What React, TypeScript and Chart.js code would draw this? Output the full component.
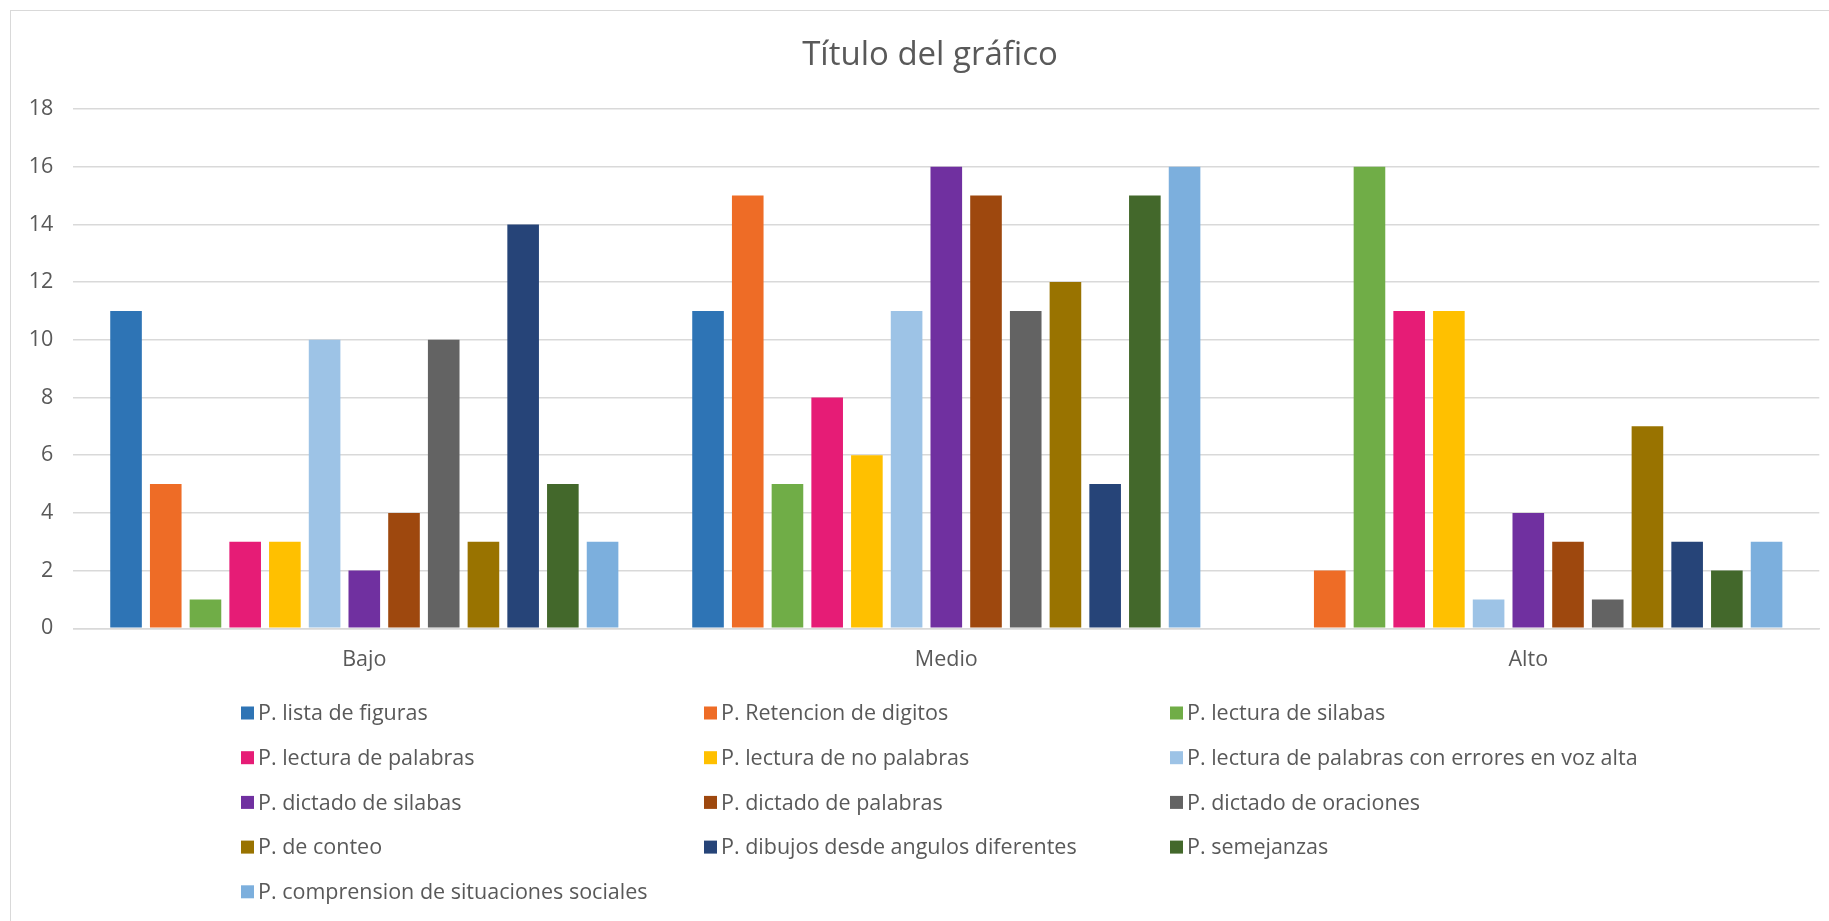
import React, { useEffect, useRef } from "react";
import { Chart, registerables } from "chart.js";

Chart.register(...registerables);

const chartTitle = "Título del gráfico";

const categories = ["Bajo", "Medio", "Alto"];

const seriesNames = [
  "P. lista de figuras",
  "P. Retencion de digitos",
  "P. lectura de silabas",
  "P. lectura de palabras",
  "P. lectura de no palabras",
  "P. lectura de palabras con errores en voz alta",
  "P. dictado de silabas",
  "P. dictado de palabras",
  "P. dictado de oraciones",
  "P. de conteo",
  "P. dibujos desde angulos diferentes",
  "P. semejanzas",
  "P. comprension de situaciones sociales",
];

const seriesColors = [
  "#2E74B5",
  "#EE6C26",
  "#70AD47",
  "#E61C76",
  "#FFC000",
  "#9DC3E6",
  "#7030A0",
  "#9E480E",
  "#636363",
  "#997300",
  "#264478",
  "#43682B",
  "#7CAFDD",
];

const listaFiguras = [11, 11, 0];
const retencionDigitos = [5, 15, 2];
const lecturaSilabas = [1, 5, 16];
const lecturaPalabras = [3, 8, 11];
const lecturaNoPalabras = [3, 6, 11];
const lecturaErrores = [10, 11, 1];
const dictadoSilabas = [2, 16, 4];
const dictadoPalabras = [4, 15, 3];
const dictadoOraciones = [10, 11, 1];
const conteo = [3, 12, 7];
const dibujosAngulos = [14, 5, 3];
const semejanzas = [5, 15, 2];
const comprensionSocial = [3, 16, 3];

const seriesValues = [
  listaFiguras,
  retencionDigitos,
  lecturaSilabas,
  lecturaPalabras,
  lecturaNoPalabras,
  lecturaErrores,
  dictadoSilabas,
  dictadoPalabras,
  dictadoOraciones,
  conteo,
  dibujosAngulos,
  semejanzas,
  comprensionSocial,
];

const yMin = 0;
const yMax = 18;
const yStep = 2;

const TEXT = "#595959";
const GRID = "#d9d9d9";
const FONT = '"Open Sans", sans-serif';

const titlePlugin = {
  id: "centeredTitle",
  afterDraw(chart: any) {
    const ctx = chart.ctx;
    ctx.save();
    ctx.font = `33px ${FONT}`;
    ctx.fillStyle = TEXT;
    ctx.textAlign = "center";
    ctx.textBaseline = "middle";
    ctx.fillText(chartTitle, 930, 56);
    ctx.restore();
  },
};

const gridLegend = {
  id: "gridLegend",
  afterDraw(chart: any) {
    const ctx = chart.ctx;
    const colX = [241, 704, 1170];
    const rowY0 = 713;
    const rowStep = 44.7;
    ctx.save();
    ctx.font = `21.5px ${FONT}`;
    ctx.textBaseline = "middle";
    ctx.textAlign = "left";
    chart.data.datasets.forEach((ds: any, i: number) => {
      const c = i % 3;
      const r = Math.floor(i / 3);
      const x = colX[c];
      const y = rowY0 + r * rowStep;
      ctx.fillStyle = ds.backgroundColor;
      ctx.fillRect(x, y - 6.5, 13, 13);
      ctx.fillStyle = TEXT;
      ctx.fillText(ds.label, x + 17, y + 1);
    });
    ctx.restore();
  },
};

export default function App() {
  const ref = useRef<HTMLCanvasElement | null>(null);

  useEffect(() => {
    if (!ref.current) return;
    const chart = new Chart(ref.current, {
      type: "bar",
      data: {
        labels: categories,
        datasets: seriesNames.map((name, i) => ({
          label: name,
          data: seriesValues[i],
          backgroundColor: seriesColors[i],
          borderWidth: 0,
          categoryPercentage: 0.887,
          barPercentage: 0.796,
        })),
      },
      options: {
        responsive: false,
        animation: false,
        devicePixelRatio: 1,
        layout: {
          padding: { left: 10, right: 9.7, top: 109, bottom: 232.7 },
        },
        plugins: {
          legend: { display: false },
          tooltip: { enabled: false },
          title: { display: false },
        },
        scales: {
          x: {
            grid: { display: false, drawTicks: false },
            border: { display: true, color: GRID, width: 1.5 },
            ticks: {
              color: TEXT,
              font: { family: FONT, size: 21.5 },
              padding: 19,
              maxRotation: 0,
            },
            afterFit: (s: any) => {
              s.height = 60;
            },
          },
          y: {
            min: yMin,
            max: yMax,
            grid: { color: GRID, lineWidth: 1.5, drawTicks: false },
            border: { display: false },
            ticks: {
              stepSize: yStep,
              color: TEXT,
              font: { family: FONT, size: 21.5 },
              padding: 20,
            },
            afterFit: (s: any) => {
              s.width = 63.3;
            },
          },
        },
      },
      plugins: [titlePlugin, gridLegend],
    });
    return () => chart.destroy();
  }, []);

  return (
    <div
      style={{
        position: "absolute",
        left: 0,
        top: 0,
        width: 1829,
        height: 921,
        overflow: "hidden",
        background: "#fff",
      }}
    >
      <canvas ref={ref} width={1829} height={921} style={{ position: "absolute", left: 0, top: 0 }} />
      <div
        style={{
          position: "absolute",
          left: 10,
          top: 10,
          width: 2000,
          height: 2000,
          border: "1.5px solid #d9d9d9",
          pointerEvents: "none",
        }}
      />
    </div>
  );
}
